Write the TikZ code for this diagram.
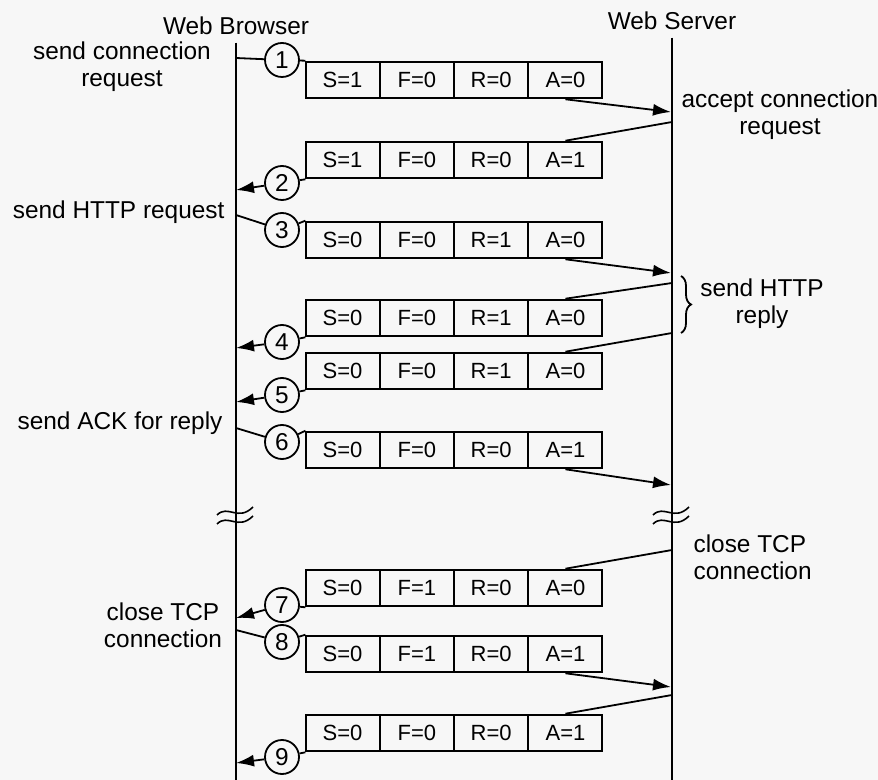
\documentclass[tikz,border=0pt]{standalone}
\usepackage{fontspec}
\setmainfont{Liberation Sans}
\usetikzlibrary{arrows.meta,positioning,shapes.multipart,decorations.pathreplacing}

\begin{document}
\begin{tikzpicture}[x=0.5pt,y=-0.5pt,line width=0.9pt,every node/.style={font=\fontsize{12.2}{13.5}\selectfont,align=center},pkt/.style={draw,rectangle split,rectangle split horizontal,rectangle split parts=4,inner xsep=0pt,inner ysep=5.3pt,text width=36.25pt,font=\fontsize{11}{12}\selectfont},num/.style={draw,circle,minimum size=17pt,inner sep=0pt},msg/.style={line width=0.9pt},arrow/.style={msg,-{Latex[length=9pt,width=6pt]}}]
\fill[black!3] (0,0) rectangle (878,780);
\useasboundingbox (0,0) rectangle (878,780);
% lifelines
\node (wb) at (236,26) {Web Browser};
\node (ws) at (672,21) {Web Server};
\coordinate (wbend) at (236,780); \coordinate (wsend) at (672,780);
\draw (wb) -- (wbend); \draw (ws) -- (wsend);
\foreach \lx in {236,672} \foreach \ly in {512,521}
  \draw[line width=0.8pt] (\lx-19,\ly+3) .. controls (\lx-8,\ly-8) and (\lx+2,\ly+10) .. (\lx+17,\ly-5);
% side labels
\node (l1) at (122,67) {send connection\\request};
\node (r1) at (780,115) {accept connection\\request};
\node[anchor=east] (l3) at (232,212) {send HTTP request};
\node (r4) at (762,304) {send HTTP\\reply};
\node[anchor=east] (l6) at (230,423) {send ACK for reply};
\node[anchor=west,align=left] (r7) at (686,557) {close TCP\\connection};
\node (l8) at (163,625) {close TCP\\connection};
\coordinate (bt) at (681,276); \coordinate (bb) at (681,333);
\draw[decorate,decoration={brace,amplitude=5pt}] (bt) -- (bb);
% packets
\node[pkt] (p1) at (454,80) {S=1\nodepart{two}F=0\nodepart{three}R=0\nodepart{four}A=0};
\node[pkt] (p2) at (454,160) {S=1\nodepart{two}F=0\nodepart{three}R=0\nodepart{four}A=1};
\node[pkt] (p3) at (454,240) {S=0\nodepart{two}F=0\nodepart{three}R=1\nodepart{four}A=0};
\node[pkt] (p4) at (454,318) {S=0\nodepart{two}F=0\nodepart{three}R=1\nodepart{four}A=0};
\node[pkt] (p5) at (454,371) {S=0\nodepart{two}F=0\nodepart{three}R=1\nodepart{four}A=0};
\node[pkt] (p6) at (454,450) {S=0\nodepart{two}F=0\nodepart{three}R=0\nodepart{four}A=1};
\node[pkt] (p7) at (454,588) {S=0\nodepart{two}F=1\nodepart{three}R=0\nodepart{four}A=0};
\node[pkt] (p8) at (454,654) {S=0\nodepart{two}F=1\nodepart{three}R=0\nodepart{four}A=1};
\node[pkt] (p9) at (454,733) {S=0\nodepart{two}F=0\nodepart{three}R=0\nodepart{four}A=1};
% numbered steps
\node[num] (c1) at (282,60) {1};
\node[num] (c2) at (282,183) {2};
\node[num] (c3) at (282,230) {3};
\node[num] (c4) at (282,342) {4};
\node[num] (c5) at (282,395) {5};
\node[num] (c6) at (282,442) {6};
\node[num] (c7) at (282,605) {7};
\node[num] (c8) at (282,642) {8};
\node[num] (c9) at (282,757) {9};
% ends on the lifelines
\coordinate (b1) at (236,58); \coordinate (s1) at (671,112);
\coordinate (s2) at (672,122); \coordinate (b2) at (236,190);
\coordinate (b3) at (236,215); \coordinate (s3) at (671,273);
\coordinate (s4) at (672,283); \coordinate (b4) at (236,348);
\coordinate (s5) at (672,333); \coordinate (b5) at (236,402);
\coordinate (b6) at (236,428); \coordinate (s6) at (671,485);
\coordinate (s7) at (672,550); \coordinate (b7) at (236,618);
\coordinate (b8) at (236,630); \coordinate (s8) at (671,687);
\coordinate (s9) at (672,695); \coordinate (b9) at (236,763);
% messages
\draw[msg] (b1) -- (c1) -- (p1.north west); \draw[arrow] (p1.four south) -- (s1);
\draw[msg] (s2) -- (p2.four north); \draw[arrow] (p2.south west) -- (c2) -- (b2);
\draw[msg] (b3) -- (c3) -- (p3.north west); \draw[arrow] (p3.four south) -- (s3);
\draw[msg] (s4) -- (p4.four north); \draw[arrow] (p4.south west) -- (c4) -- (b4);
\draw[msg] (s5) -- (p5.four north); \draw[arrow] (p5.south west) -- (c5) -- (b5);
\draw[msg] (b6) -- (c6) -- (p6.north west); \draw[arrow] (p6.four south) -- (s6);
\draw[msg] (s7) -- (p7.four north); \draw[arrow] (p7.south west) -- (c7) -- (b7);
\draw[msg] (b8) -- (c8) -- (p8.north west); \draw[arrow] (p8.four south) -- (s8);
\draw[msg] (s9) -- (p9.four north); \draw[arrow] (p9.south west) -- (c9) -- (b9);
\end{tikzpicture}
\end{document}
